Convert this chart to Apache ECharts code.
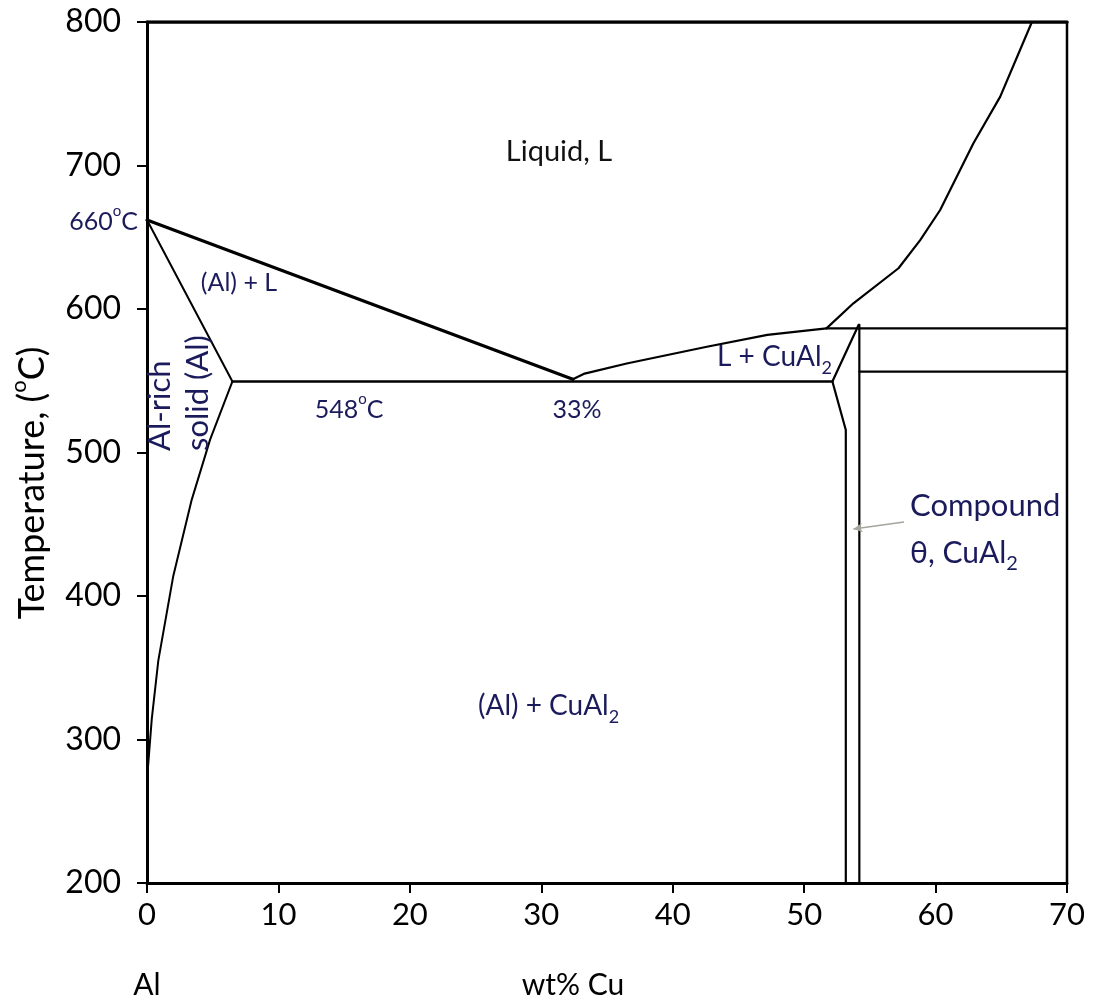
<!DOCTYPE html>
<html><head><meta charset="utf-8">
<script src="https://cdn.jsdelivr.net/npm/echarts@6.0.0/dist/echarts.min.js"></script>
<style>html,body{margin:0;padding:0;background:#fff}#c{width:1097px;height:1005px}</style>
</head><body><div id="c"></div>
<script>
// ---- data (wt% Cu, temperature °C) ----
const xTicks = [0, 10, 20, 30, 40, 50, 60, 70];
const yTicks = [200, 300, 400, 500, 600, 700, 800];
const liquidusAl = [[0, 662], [32.4, 551]];
const solidusAl = [[0, 662], [6.5, 549.5]];
const solvusAl = [[6.5, 549.5], [4.8, 509], [3.4, 467], [2.0, 414], [0.86, 355], [0.36, 314], [0, 272]];
const eutecticLine = [[6.5, 549.5], [52.15, 549.5]];
const liquidusTheta = [[32.4, 551], [33.3, 555], [36.5, 562], [42.6, 573.7], [47.2, 582], [51.7, 586.5]];
const liquidusHigh = [[51.7, 586.5], [53.75, 604], [57.18, 628.4], [58.83, 648], [60.35, 669], [62.88, 715.5], [64.92, 748], [67.33, 800]];
const peritecticLine = [[51.7, 586.5], [70, 586.5]];
const thetaLeft = [[54.15, 589], [52.15, 549.5], [53.17, 515.7], [53.17, 200]];
const thetaRight = [[54.2, 200], [54.2, 589]];
const thetaSolvus = [[54.2, 556.3], [70, 556.3]];
const topBorder = [[0, 800], [70, 800]];
const rightBorder = [[70, 200], [70, 800]];
const arrowFrom = [57.6, 451.6];
const arrowTo = [53.75, 446.7];

const FONT = 'Lato, "Open Sans", sans-serif';
const NAVY = '#1b1b5c';

function seg(name, data, w) {
  return { type: 'line', name: name, data: data, symbol: 'none', silent: true,
    lineStyle: { color: '#000', width: w, cap: 'round', join: 'round' }, z: 3 };
}

const series = [
  seg('topBorder', topBorder, 3.5),
  seg('rightBorder', rightBorder, 2.5),
  seg('liquidusAl', liquidusAl, 3.2),
  seg('solidusAl', solidusAl, 2),
  seg('solvusAl', solvusAl, 2),
  seg('eutectic', eutecticLine, 2.5),
  seg('liquidusTheta', liquidusTheta, 2.2),
  seg('liquidusHigh', liquidusHigh, 2.2),
  seg('peritectic', peritecticLine, 2.2),
  seg('thetaLeft', thetaLeft, 2.2),
  seg('thetaRight', thetaRight, 2.2),
  seg('thetaSolvus', thetaSolvus, 2.2),
  { type: 'line', data: [], silent: true,
    markLine: { silent: true, symbol: ['none', 'arrow'], symbolSize: [7, 9], label: { show: false },
      lineStyle: { color: '#a3a69c', width: 1.6, type: 'solid' },
      data: [[{ coord: arrowFrom }, { coord: arrowTo }]] } }
];

function txt(x, y, text, size, color, align, extra) {
  const o = { type: 'text', x: x, y: y, z: 10, silent: true,
    style: Object.assign({ text: text, fill: color, fontSize: size, fontFamily: FONT,
      align: align, textAlign: align, verticalAlign: 'middle', textVerticalAlign: 'middle' }, extra || {}) };
  return o;
}
function subRich(size) {
  return {
    a: { fontSize: size, fontFamily: FONT, fill: NAVY, color: NAVY, lineHeight: size + 12 },
    s: { fontSize: Math.round(size * 0.66), fontFamily: FONT, fill: NAVY, color: NAVY, lineHeight: Math.round(size * 0.66), verticalAlign: 'bottom' }
  };
}
function supRich(size, color) {
  return {
    a: { fontSize: size, fontFamily: FONT, fill: color, color: color, lineHeight: size + 12 },
    u: { fontSize: Math.round(size * 0.6), fontFamily: FONT, fill: color, color: color, lineHeight: Math.round(size * 0.6) + 11, verticalAlign: 'top' }
  };
}

const graphics = [
  txt(138, 222, '{a|660}{u|o}{a|C}', 25, NAVY, 'right', { rich: supRich(25, NAVY) }),
  txt(559, 152, 'Liquid, L', 29, '#111', 'center'),
  txt(239, 283, '(Al) + L', 25, NAVY, 'center'),
  txt(349, 410, '{a|548}{u|o}{a|C}', 25, NAVY, 'center', { rich: supRich(25, NAVY) }),
  txt(577, 410, '33%', 25, NAVY, 'center'),
  txt(717, 357, '{a|L + CuAl}{s|2}', 28, NAVY, 'left', { rich: subRich(28) }),
  txt(910, 506, 'Compound', 31, NAVY, 'left'),
  txt(910, 553, '{a|θ, CuAl}{s|2}', 30, NAVY, 'left', { rich: subRich(30) }),
  txt(478, 706, '{a|(Al) + CuAl}{s|2}', 28, NAVY, 'left', { rich: subRich(28) }),
  Object.assign(txt(160, 451, 'Al-rich', 31, NAVY, 'left'), { rotation: Math.PI / 2 }),
  Object.assign(txt(198, 451, 'solid (Al)', 31, NAVY, 'left'), { rotation: Math.PI / 2 }),
  Object.assign(txt(32, 483, '{a|Temperature, (}{u|o}{a|C)}', 36, '#000', 'center', { rich: supRich(36, '#000') }), { rotation: Math.PI / 2 }),
  txt(147, 985, 'Al', 30, '#000', 'center'),
  txt(573, 985, 'wt% Cu', 30, '#000', 'center')
];

const chart = echarts.init(document.getElementById('c'), null, { renderer: 'canvas' });
chart.setOption({
  animation: false,
  backgroundColor: '#fff',
  grid: { left: 147, right: 30, top: 22, bottom: 122, containLabel: false },
  xAxis: {
    type: 'value', min: xTicks[0], max: xTicks[xTicks.length - 1], interval: 10,
    axisLine: { show: true, onZero: false, lineStyle: { color: '#000', width: 3 } },
    axisTick: { show: true, length: 10, lineStyle: { color: '#000', width: 2 } },
    splitLine: { show: false },
    axisLabel: { color: '#000', fontSize: 31, fontFamily: FONT, margin: 16,
      formatter: function (v) { return xTicks.indexOf(v) >= 0 ? String(v) : ''; } }
  },
  yAxis: {
    type: 'value', min: yTicks[0], max: yTicks[yTicks.length - 1], interval: 100,
    axisLine: { show: true, onZero: false, lineStyle: { color: '#000', width: 3 } },
    axisTick: { show: true, length: 10, lineStyle: { color: '#000', width: 2 } },
    splitLine: { show: false },
    axisLabel: { color: '#000', fontSize: 32, fontFamily: FONT, margin: 26,
      formatter: function (v) { return yTicks.indexOf(v) >= 0 ? String(v) : ''; } }
  },
  series: series,
  graphic: { elements: graphics }
});
</script></body></html>
